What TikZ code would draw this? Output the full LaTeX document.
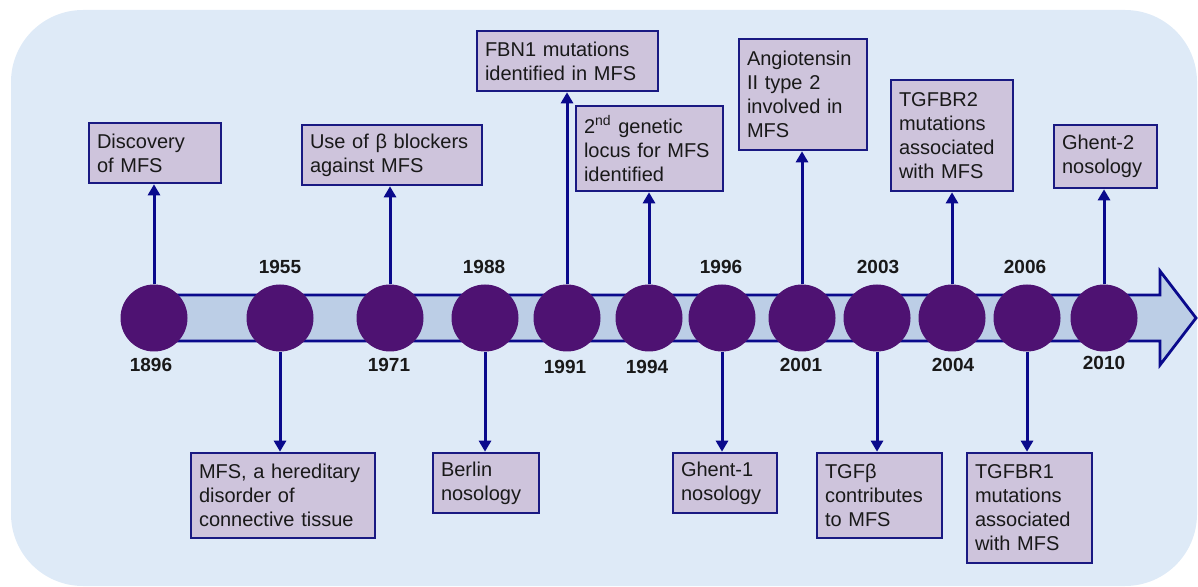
\documentclass[tikz,border=0pt]{standalone}
\usepackage{fontspec}
\setmainfont{Liberation Sans}
\usetikzlibrary{arrows.meta}
\definecolor{bgblue}{RGB}{222,234,247}
\definecolor{bandblue}{RGB}{188,206,230}
\definecolor{navyline}{RGB}{10,10,140}
\definecolor{boxborder}{RGB}{25,25,130}
\definecolor{boxfill}{RGB}{206,196,220}
\definecolor{dotpurple}{RGB}{78,18,114}
\begin{document}
\begin{tikzpicture}[x=0.5pt,y=-0.5pt,
  eventbox/.style={draw=boxborder,line width=1.3pt,fill=boxfill,align=left,
    inner xsep=4pt,inner ysep=0pt,font=\fontsize{10}{12}\selectfont,text=black!90},
  dot/.style={circle,fill=dotpurple,minimum size=33.5pt,inner sep=0pt},
  year/.style={font=\fontsize{9.5}{11}\selectfont\bfseries,text=black!90,inner sep=0pt},
  conn/.style={draw=navyline,line width=1.5pt,-{Triangle[length=5.5pt,width=6pt]}}
]
\useasboundingbox (0,0) rectangle (1198,587);
% background panel
\fill[bgblue, rounded corners=36pt] (11,10) rectangle (1197,586);
% timeline band with arrow head
\draw[draw=navyline,line width=1.4pt,fill=bandblue,line join=miter]
  (160,295) -- (1160,295) -- (1160,271) -- (1196,318) -- (1160,365) -- (1160,341) -- (160,341) -- cycle;

% circles
\node[dot] (c1896) at (154,318) {};
\node[dot] (c1955) at (280,318) {};
\node[dot] (c1971) at (390,318) {};
\node[dot] (c1988) at (485,318) {};
\node[dot] (c1991) at (567,318) {};
\node[dot] (c1994) at (649,318) {};
\node[dot] (c1996) at (722,318) {};
\node[dot] (c2001) at (802,318) {};
\node[dot] (c2003) at (877,318) {};
\node[dot] (c2004) at (952,318) {};
\node[dot] (c2006) at (1027,318) {};
\node[dot] (c2010) at (1104,318) {};

% year labels
\node[year] (y1896) at (151,365) {1896};
\node[year] (y1955) at (280,267) {1955};
\node[year] (y1971) at (389,365) {1971};
\node[year] (y1988) at (484,267) {1988};
\node[year] (y1991) at (565,367) {1991};
\node[year] (y1994) at (647,367) {1994};
\node[year] (y1996) at (721,267) {1996};
\node[year] (y2001) at (801,365) {2001};
\node[year] (y2003) at (878,267) {2003};
\node[year] (y2004) at (953,365) {2004};
\node[year] (y2006) at (1025,267) {2006};
\node[year] (y2010) at (1104,363) {2010};

% upper boxes
\node[eventbox,text width=58pt,minimum height=30pt] (b1896) at (155,153) {Discovery\\of MFS};
\node[eventbox,text width=82pt,minimum height=30pt] (b1971) at (392,155) {Use of β blockers\\against MFS};
\node[eventbox,text width=82.5pt,minimum height=30pt] (b1991) at (567.5,61) {FBN1 mutations\\identified in MFS};
\node[eventbox,text width=65.5pt,minimum height=42.5pt] (b1994) at (649.5,148.5) {2\textsuperscript{nd} genetic\\locus for MFS\\identified};
\node[eventbox,text width=56pt,minimum height=55.5pt] (b2001) at (803,94.5) {Angiotensin\\II type 2\\involved in\\MFS};
\node[eventbox,text width=53pt,minimum height=55.5pt] (b2004) at (952,135.5) {TGFBR2\\mutations\\associated\\with MFS};
\node[eventbox,text width=43.5pt,minimum height=31.5pt] (b2010) at (1105.5,156.5) {Ghent-2\\nosology};

% lower boxes
\node[eventbox,text width=84pt,minimum height=42.5pt] (b1955) at (283,495.5) {MFS, a hereditary\\disorder of\\connective tissue};
\node[eventbox,text width=45pt,minimum height=30pt] (b1988) at (486,483) {Berlin\\nosology};
\node[eventbox,text width=44pt,minimum height=30pt] (b1996) at (725,483) {Ghent-1\\nosology};
\node[eventbox,text width=54.5pt,minimum height=42.5pt] (b2003) at (879.5,495.5) {TGFβ\\contributes\\to MFS};
\node[eventbox,text width=54.5pt,minimum height=55pt] (b2006) at (1029.5,508) {TGFBR1\\mutations\\associated\\with MFS};

% connectors up
\draw[conn] (c1896.north) -- (c1896.north |- b1896.south);
\draw[conn] (c1971.north) -- (c1971.north |- b1971.south);
\draw[conn] (c1991.north) -- (c1991.north |- b1991.south);
\draw[conn] (c1994.north) -- (c1994.north |- b1994.south);
\draw[conn] (c2001.north) -- (c2001.north |- b2001.south);
\draw[conn] (c2004.north) -- (c2004.north |- b2004.south);
\draw[conn] (c2010.north) -- (c2010.north |- b2010.south);
% connectors down
\draw[conn] (c1955.south) -- (c1955.south |- b1955.north);
\draw[conn] (c1988.south) -- (c1988.south |- b1988.north);
\draw[conn] (c1996.south) -- (c1996.south |- b1996.north);
\draw[conn] (c2003.south) -- (c2003.south |- b2003.north);
\draw[conn] (c2006.south) -- (c2006.south |- b2006.north);
\end{tikzpicture}
\end{document}
